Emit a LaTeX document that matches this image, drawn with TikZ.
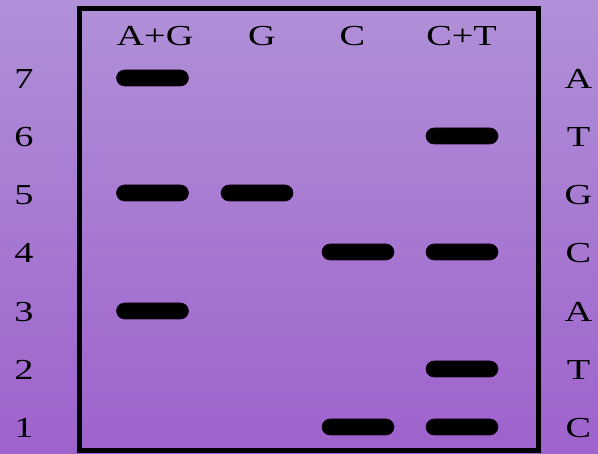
\documentclass[tikz,border=0pt]{standalone}
\usepackage{fontspec}
\setmainfont{Liberation Serif}
% wide lettering used for all labels
\newcommand{\widetxt}[1]{\scalebox{1.32}[1]{#1}}
\begin{document}
\begin{tikzpicture}[x=1pt,y=-1pt,
  lbl/.style={inner sep=0pt,font=\fontsize{29}{32}\selectfont},
  band/.style={fill=black,draw=black!80!violet,line width=0.6pt,rounded corners=8pt,
    minimum width=72pt,minimum height=16pt,inner sep=0pt}]
  % background
  \shade[top color={rgb,255:red,176;green,144;blue,216},
         bottom color={rgb,255:red,158;green,98;blue,204}]
    (0,0) rectangle (598,454);
  \useasboundingbox (0,0) rectangle (598,454);
  % gel frame
  \draw[line width=5pt] (79.5,9) rectangle (538,450.5);
  % lane headers
  \node[lbl] (hAG) at (155,36.5) {\widetxt{A+G}};
  \node[lbl] (hG)  at (262,36.5) {\widetxt{G}};
  \node[lbl] (hC)  at (352.5,36.5) {\widetxt{C}};
  \node[lbl] (hCT) at (461.5,36.5) {\widetxt{C+T}};
  % fragment lengths and sequence
  \foreach \n/\b in {7/A,6/T,5/G,4/C,3/A,2/T,1/C}{
    \pgfmathsetmacro{\yy}{427-(\n-1)*58.2}
    \node[lbl] (num\n) at (24,\yy+1) {\widetxt{\n}};
    \node[lbl] (seq\n) at (578.5,\yy+1) {\widetxt{\b}};
  }
  % bands
  \node[band] (bAG7) at (152.5,78) {};
  \node[band] (bAG5) at (152.5,193) {};
  \node[band] (bAG3) at (152.5,311) {};
  \node[band] (bG5)  at (257,193) {};
  \node[band] (bC4)  at (358,252) {};
  \node[band] (bC1)  at (358,427) {};
  \node[band] (bCT6) at (462,136) {};
  \node[band] (bCT4) at (462,252) {};
  \node[band] (bCT2) at (462,369) {};
  \node[band] (bCT1) at (462,427) {};
\end{tikzpicture}
\end{document}
